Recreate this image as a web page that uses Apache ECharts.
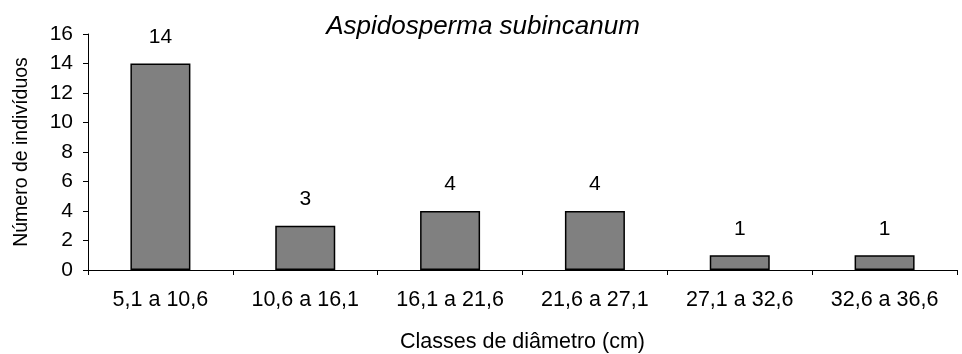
<!DOCTYPE html>
<html>
<head>
<meta charset="utf-8">
<script src="https://cdn.jsdelivr.net/npm/echarts@6/dist/echarts.min.js"></script>
<style>
html,body{margin:0;padding:0;background:#fff;}
#chart{width:962px;height:354px;}
</style>
</head>
<body>
<div id="chart"></div>
<script>
const titleText = 'Aspidosperma subincanum';
const categories = ['5,1 a 10,6', '10,6 a 16,1', '16,1 a 21,6', '21,6 a 27,1', '27,1 a 32,6', '32,6 a 36,6'];
const counts = [14, 3, 4, 4, 1, 1];
const xName = 'Classes de diâmetro (cm)';
const yName = 'Número de indivíduos';

const font = '"Liberation Sans", Arial, sans-serif';
const chart = echarts.init(document.getElementById('chart'), null, {renderer: 'canvas'});
chart.setOption({
  animation: false,
  backgroundColor: '#ffffff',
  title: {
    text: titleText,
    left: 478, top: 9, textAlign: 'center',
    textStyle: {fontFamily: font, fontSize: 26, fontStyle: 'italic', fontWeight: 'normal', color: '#000'}
  },
  grid: {left: 88, right: 5, top: 34, bottom: 84, containLabel: false, outerBoundsMode: 'none'},
  xAxis: {
    type: 'category',
    data: categories,
    name: xName,
    nameLocation: 'middle',
    nameGap: 61,
    nameTextStyle: {fontFamily: font, fontSize: 21.5, color: '#000'},
    axisLine: {lineStyle: {color: '#000', width: 1}},
    axisTick: {show: true, length: 5, lineStyle: {color: '#000'}},
    axisLabel: {fontFamily: font, fontSize: 21.5, color: '#000', margin: 19},
    splitLine: {show: false}
  },
  yAxis: {
    type: 'value',
    min: 0, max: 16, interval: 2,
    name: yName,
    nameLocation: 'middle',
    nameGap: 56,
    nameTextStyle: {fontFamily: font, fontSize: 19.5, color: '#000'},
    axisLine: {show: true, lineStyle: {color: '#000', width: 1}},
    axisTick: {show: true, length: 5, lineStyle: {color: '#000'}},
    axisLabel: {fontFamily: font, fontSize: 21, color: '#000', margin: 15},
    splitLine: {show: false}
  },
  series: [{
    type: 'bar',
    data: counts,
    barWidth: 60,
    itemStyle: {color: '#808080', borderColor: '#000', borderWidth: 1.5},
    label: {show: true, position: 'top', distance: 16, fontFamily: font, fontSize: 21, color: '#000'}
  }]
});
</script>
</body>
</html>
